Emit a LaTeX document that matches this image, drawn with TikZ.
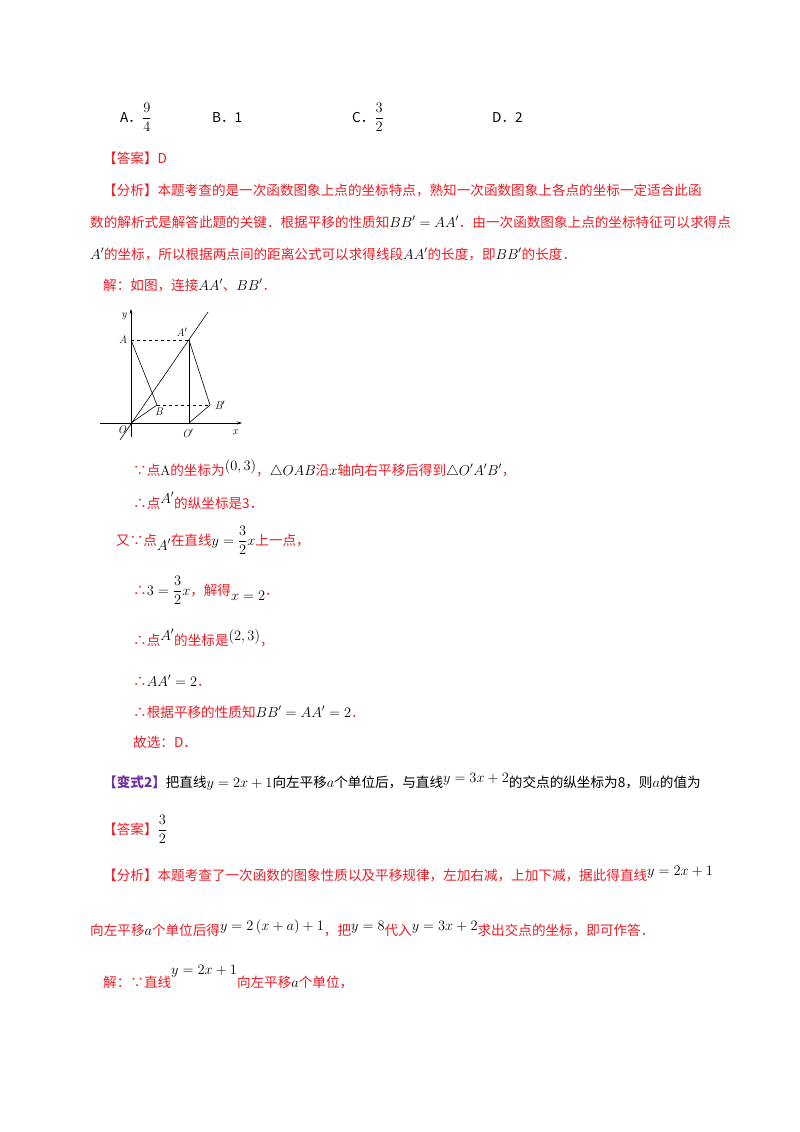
\documentclass[tikz,border=0pt]{standalone}
\usepackage{fontspec}
\usepackage{amsmath}
\usetikzlibrary{arrows.meta}
\newfontfamily\cjk{Noto Sans CJK SC}
\definecolor{rd}{RGB}{235,30,40}
\definecolor{pu}{RGB}{112,48,160}
\newcommand{\bk}[1]{\textcolor{black}{$#1$}}
\newcommand{\upm}[1]{\raisebox{5pt}{\textcolor{black}{$#1$}}}
\newcommand{\dnm}[1]{\raisebox{-5pt}{\textcolor{black}{$#1$}}}
\begin{document}
\begin{tikzpicture}[x=1pt,y=-1pt,
  t/.style={anchor=base west,inner sep=0pt,font=\cjk\fontsize{13.6}{15}\selectfont},
  r/.style={t,text=rd},
  lb/.style={font=\fontsize{11}{12}\selectfont\itshape,inner sep=0pt},
  ax/.style={line width=0.5pt,-{Stealth[length=5pt,width=3pt]}}]
\useasboundingbox[fill=white] (0,0) rectangle (800,1132);
\node[t] (o1) at (120,122) {A．$\dfrac94$};
\node[t] (o2) at (212,122) {B．1};
\node[t] (o3) at (352,122) {C．$\dfrac32$};
\node[t] (o4) at (492,122) {D．2};
\node[r] (l1) at (103,163) {【答案】D};
\node[r] (l2) at (103,195) {【分析】本题考查的是一次函数图象上点的坐标特点，熟知一次函数图象上各点的坐标一定适合此函};
\node[r] (l3) at (90,227) {数的解析式是解答此题的关键．根据平移的性质知\bk{BB'=AA'}．由一次函数图象上点的坐标特征可以求得点};
\node[r] (l4) at (90,259) {\bk{A'}的坐标，所以根据两点间的距离公式可以求得线段\bk{AA'}的长度，即\bk{BB'}的长度．};
\node[r] (l5) at (103,290) {解：如图，连接\bk{AA'}、\bk{BB'}．};
% diagram
\coordinate (O) at (131,423);
\coordinate (A) at (131,340);
\coordinate (Ap) at (189,340);
\coordinate (B) at (157,405);
\coordinate (Bp) at (210,405);
\coordinate (Op) at (189,423);
\coordinate (xs) at (100,423); \coordinate (xe) at (242,423);
\coordinate (ys) at (131,437); \coordinate (ye) at (131,309);
\coordinate (ls) at (120,440); \coordinate (le) at (208,312);
\draw[ax] (xs) -- (xe);
\draw[ax] (ys) -- (ye);
\draw[line width=0.6pt] (ls) -- (le);
\draw[dashed,line width=0.5pt] (A) -- (Ap) (B) -- (Bp);
\draw[line width=0.6pt] (A) -- (B) -- (O) (Ap) -- (Bp) -- (Op);
\draw[line width=1pt] (Ap) -- (Op);
\node[lb] (ly) at (124,316) {y};
\node[lb] (lA) at (123,340) {A};
\node[lb] (lAp) at (182,332) {A$'$};
\node[lb] (lB) at (159,412) {B};
\node[lb] (lBp) at (220,405) {B$'$};
\node[lb] (lO) at (122,430) {O};
\node[lb] (lOp) at (188,433) {O$'$};
\node[lb] (lx) at (235,432) {x};
% solution
\node[r] (s1) at (133,475) {∵点\textcolor{black}{\rmfamily A}的坐标为\upm{(0,3)}，\bk{\triangle OAB}沿\bk{x}轴向右平移后得到\bk{\triangle O'A'B'}，};
\node[r] (s2) at (133,508) {∴点\upm{A'}的纵坐标是3．};
\node[r] (s3) at (116,545) {又∵点\dnm{A'}在直线\bk{y=\dfrac32x}上一点，};
\node[r] (s4) at (133,595) {∴\bk{3=\dfrac32x}，解得\dnm{x=2}．};
\node[r] (s5) at (133,645) {∴点\upm{A'}的坐标是\upm{\left(2,3\right)}，};
\node[r] (s6) at (133,686) {∴\bk{AA'=2}．};
\node[r] (s7) at (133,717) {∴根据平移的性质知\bk{BB'=AA'=2}．};
\node[r] (s8) at (133,747) {故选：D．};
\node[t] (v1) at (103,787) {\textcolor{pu}{\bfseries【变式2】}把直线$y=2x+1$向左平移$a$个单位后，与直线\upm{y=3x+2}的交点的纵坐标为8，则$a$的值为};
\node[r] (v2) at (103,834) {【答案】\bk{\dfrac32}};
\node[r] (v3) at (103,880) {【分析】本题考查了一次函数的图象性质以及平移规律，左加右减，上加下减，据此得直线\upm{y=2x+1}};
\node[r] (v4) at (90,935) {向左平移\bk{a}个单位后得\upm{y=2\left(x+a\right)+1}，把\upm{y=8}代入\upm{y=3x+2}求出交点的坐标，即可作答．};
\node[r] (v5) at (103,987) {解：∵直线\raisebox{13pt}{\bk{y=2x+1}}向左平移\bk{a}个单位，};
\end{tikzpicture}
\end{document}
